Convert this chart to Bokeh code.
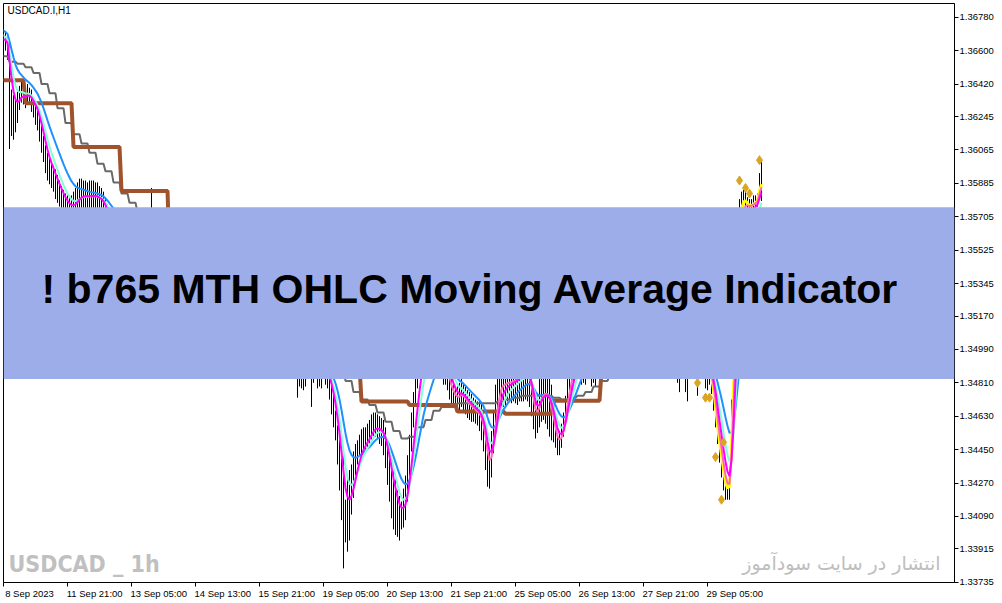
import numpy as np
import pandas as pd
from bokeh.plotting import figure
from bokeh.models import (Range1d, LinearAxis, FixedTicker, BoxAnnotation, Label,
                          PrintfTickFormatter, Grid)
from bokeh.embed import file_html
from bokeh.resources import INLINE

# ---------------- data (USDCAD.I, H1) ----------------
first_bar = -8          # bar index of first entry; index 0 = 8 Sep 2023 13:00

high = [
    1.3679, 1.3682, 1.3683, 1.3681, 1.3676, 1.3670, 1.3667, 1.3667,
    1.3671, 1.3670, 1.3667, 1.3664, 1.3639, 1.3636, 1.3633, 1.3638, 1.3641, 1.3644,
    1.3642, 1.3641, 1.3642, 1.3640, 1.3639, 1.3635, 1.3633, 1.3631, 1.3625, 1.3620,
    1.3614, 1.3609, 1.3605, 1.3602, 1.3600, 1.3598, 1.3596, 1.3593, 1.3590, 1.3587,
    1.3585, 1.3583, 1.3582, 1.3582, 1.3582, 1.3584, 1.3586, 1.3589, 1.3591, 1.3591,
    1.3590, 1.3590, 1.3589, 1.3590, 1.3590, 1.3590, 1.3589, 1.3589, 1.3587, 1.3586,
    1.3584, 1.3580, 1.3577, 1.3574, 1.3573, 1.3571, 1.3570, 1.3569, 1.3568, 1.3566,
    1.3566, 1.3568, 1.3570, 1.3571, 1.3571, 1.3572, 1.3572, 1.3572, 1.3573, 1.3573,
    1.3572, 1.3573, 1.3574, 1.3575, 1.3586, 1.3574, 1.3571, 1.3569, 1.3565, 1.3562,
    1.3560, 1.3559, 1.3557, 1.3555, 1.3554, 1.3553, 1.3554, 1.3553, 1.3551, 1.3550,
    1.3549, 1.3548, 1.3548, 1.3547, 1.3545, 1.3544, 1.3543, 1.3541, 1.3542, 1.3540,
    1.3539, 1.3537, 1.3537, 1.3536, 1.3536, 1.3535, 1.3534, 1.3533, 1.3532, 1.3532,
    1.3530, 1.3529, 1.3528, 1.3527, 1.3526, 1.3525, 1.3523, 1.3523, 1.3522, 1.3521,
    1.3521, 1.3520, 1.3519, 1.3518, 1.3516, 1.3516, 1.3515, 1.3515, 1.3514, 1.3513,
    1.3512, 1.3511, 1.3509, 1.3509, 1.3508, 1.3507, 1.3506, 1.3506, 1.3505, 1.3504,
    1.3504, 1.3502, 1.3502, 1.3501, 1.3501, 1.3500, 1.3499, 1.3498, 1.3499, 1.3500,
    1.3499, 1.3498, 1.3496, 1.3495, 1.3494, 1.3493, 1.3495, 1.3498, 1.3499, 1.3498,
    1.3497, 1.3493, 1.3492, 1.3488, 1.3480, 1.3476, 1.3466, 1.3458, 1.3450, 1.3440,
    1.3444, 1.3418, 1.3430, 1.3434, 1.3437, 1.3444, 1.3448, 1.3450, 1.3453, 1.3456,
    1.3457, 1.3457, 1.3459, 1.3461, 1.3464, 1.3465, 1.3465, 1.3464, 1.3463, 1.3462,
    1.3461, 1.3457, 1.3450, 1.3445, 1.3438, 1.3434, 1.3429, 1.3423, 1.3420, 1.3417,
    1.3424, 1.3431, 1.3442, 1.3453, 1.3465, 1.3476, 1.3487, 1.3496, 1.3504, 1.3509,
    1.3514, 1.3508, 1.3508, 1.3509, 1.3512, 1.3514, 1.3515, 1.3515, 1.3514, 1.3509,
    1.3515, 1.3502, 1.3490, 1.3485, 1.3483, 1.3480, 1.3479, 1.3479, 1.3481, 1.3483,
    1.3481, 1.3479, 1.3477, 1.3476, 1.3475, 1.3473, 1.3472, 1.3471, 1.3472, 1.3470,
    1.3465, 1.3460, 1.3448, 1.3444, 1.3455, 1.3466, 1.3480, 1.3488, 1.3493, 1.3499,
    1.3495, 1.3493, 1.3492, 1.3491, 1.3493, 1.3494, 1.3495, 1.3499, 1.3499, 1.3500,
    1.3501, 1.3500, 1.3499, 1.3495, 1.3489, 1.3477, 1.3471, 1.3473, 1.3483, 1.3490,
    1.3493, 1.3493, 1.3493, 1.3489, 1.3480, 1.3466, 1.3457, 1.3452, 1.3455, 1.3459,
    1.3465, 1.3474, 1.3485, 1.3491, 1.3498, 1.3502, 1.3508, 1.3515, 1.3520, 1.3528,
    1.3531, 1.3536, 1.3536, 1.3539, 1.3544, 1.3543, 1.3546, 1.3545, 1.3548, 1.3526,
    1.3526, 1.3526, 1.3528, 1.3530, 1.3532, 1.3533, 1.3534, 1.3534, 1.3533, 1.3532,
    1.3530, 1.3528, 1.3527, 1.3526, 1.3525, 1.3523, 1.3522, 1.3521, 1.3519, 1.3518,
    1.3516, 1.3515, 1.3514, 1.3513, 1.3512, 1.3511, 1.3510, 1.3508, 1.3507, 1.3506,
    1.3505, 1.3504, 1.3502, 1.3501, 1.3500, 1.3499, 1.3498, 1.3498, 1.3501, 1.3498,
    1.3499, 1.3500, 1.3499, 1.3496, 1.3499, 1.3500, 1.3499, 1.3501, 1.3498, 1.3499,
    1.3500, 1.3501, 1.3499, 1.3493, 1.3490, 1.3483, 1.3471, 1.3458, 1.3451, 1.3447,
    1.3437, 1.3431, 1.3427, 1.3434, 1.3472, 1.3509, 1.3546, 1.3570, 1.3580, 1.3584,
    1.3585, 1.3584, 1.3581, 1.3580, 1.3580, 1.3582, 1.3582, 1.3583, 1.3594, 1.3601,
]

low = [
    1.3671, 1.3673, 1.3674, 1.3672, 1.3668, 1.3661, 1.3658, 1.3658,
    1.3659, 1.3660, 1.3655, 1.3607, 1.3614, 1.3612, 1.3616, 1.3621, 1.3628, 1.3632,
    1.3631, 1.3629, 1.3632, 1.3631, 1.3627, 1.3624, 1.3620, 1.3617, 1.3611, 1.3605,
    1.3600, 1.3594, 1.3590, 1.3588, 1.3586, 1.3584, 1.3580, 1.3578, 1.3576, 1.3574,
    1.3572, 1.3570, 1.3569, 1.3568, 1.3568, 1.3569, 1.3570, 1.3572, 1.3574, 1.3575,
    1.3575, 1.3574, 1.3574, 1.3573, 1.3574, 1.3574, 1.3574, 1.3573, 1.3572, 1.3571,
    1.3569, 1.3565, 1.3562, 1.3561, 1.3559, 1.3557, 1.3557, 1.3556, 1.3555, 1.3555,
    1.3554, 1.3555, 1.3556, 1.3557, 1.3557, 1.3558, 1.3559, 1.3558, 1.3559, 1.3560,
    1.3559, 1.3561, 1.3561, 1.3563, 1.3557, 1.3561, 1.3557, 1.3554, 1.3550, 1.3547,
    1.3545, 1.3544, 1.3543, 1.3541, 1.3540, 1.3539, 1.3540, 1.3539, 1.3536, 1.3536,
    1.3535, 1.3534, 1.3534, 1.3533, 1.3531, 1.3529, 1.3528, 1.3527, 1.3528, 1.3526,
    1.3525, 1.3523, 1.3523, 1.3522, 1.3522, 1.3521, 1.3520, 1.3519, 1.3518, 1.3518,
    1.3516, 1.3515, 1.3514, 1.3513, 1.3512, 1.3511, 1.3509, 1.3509, 1.3508, 1.3507,
    1.3507, 1.3506, 1.3505, 1.3504, 1.3502, 1.3502, 1.3501, 1.3501, 1.3500, 1.3499,
    1.3498, 1.3497, 1.3495, 1.3495, 1.3494, 1.3493, 1.3492, 1.3492, 1.3491, 1.3490,
    1.3490, 1.3488, 1.3488, 1.3487, 1.3487, 1.3486, 1.3485, 1.3473, 1.3479, 1.3478,
    1.3477, 1.3479, 1.3483, 1.3484, 1.3468, 1.3481, 1.3484, 1.3478, 1.3479, 1.3478,
    1.3484, 1.3480, 1.3478, 1.3472, 1.3464, 1.3457, 1.3450, 1.3437, 1.3423, 1.3407,
    1.3381, 1.3395, 1.3390, 1.3396, 1.3410, 1.3419, 1.3429, 1.3437, 1.3442, 1.3442,
    1.3444, 1.3445, 1.3446, 1.3448, 1.3449, 1.3452, 1.3452, 1.3451, 1.3448, 1.3447,
    1.3442, 1.3435, 1.3426, 1.3417, 1.3408, 1.3402, 1.3399, 1.3398, 1.3396, 1.3402,
    1.3403, 1.3407, 1.3417, 1.3431, 1.3444, 1.3457, 1.3468, 1.3478, 1.3487, 1.3494,
    1.3500, 1.3494, 1.3495, 1.3497, 1.3499, 1.3501, 1.3502, 1.3502, 1.3500, 1.3497,
    1.3480, 1.3480, 1.3477, 1.3472, 1.3468, 1.3468, 1.3466, 1.3466, 1.3466, 1.3468,
    1.3466, 1.3464, 1.3462, 1.3461, 1.3460, 1.3460, 1.3459, 1.3458, 1.3455, 1.3450,
    1.3444, 1.3434, 1.3425, 1.3424, 1.3430, 1.3443, 1.3452, 1.3461, 1.3466, 1.3466,
    1.3468, 1.3468, 1.3471, 1.3472, 1.3470, 1.3471, 1.3470, 1.3469, 1.3471, 1.3471,
    1.3471, 1.3472, 1.3471, 1.3468, 1.3463, 1.3456, 1.3451, 1.3454, 1.3457, 1.3460,
    1.3461, 1.3459, 1.3456, 1.3452, 1.3450, 1.3449, 1.3446, 1.3442, 1.3442, 1.3446,
    1.3452, 1.3461, 1.3468, 1.3472, 1.3476, 1.3480, 1.3483, 1.3483, 1.3483, 1.3480,
    1.3481, 1.3480, 1.3483, 1.3483, 1.3479, 1.3481, 1.3479, 1.3483, 1.3481, 1.3506,
    1.3508, 1.3512, 1.3514, 1.3516, 1.3518, 1.3519, 1.3520, 1.3520, 1.3519, 1.3518,
    1.3516, 1.3514, 1.3513, 1.3512, 1.3511, 1.3509, 1.3508, 1.3507, 1.3505, 1.3504,
    1.3502, 1.3501, 1.3500, 1.3499, 1.3498, 1.3497, 1.3496, 1.3494, 1.3493, 1.3492,
    1.3491, 1.3490, 1.3488, 1.3487, 1.3486, 1.3485, 1.3485, 1.3481, 1.3476, 1.3484,
    1.3485, 1.3476, 1.3471, 1.3484, 1.3485, 1.3485, 1.3484, 1.3474, 1.3484, 1.3485,
    1.3485, 1.3478, 1.3477, 1.3480, 1.3475, 1.3466, 1.3457, 1.3448, 1.3438, 1.3430,
    1.3423, 1.3418, 1.3418, 1.3418, 1.3440, 1.3477, 1.3516, 1.3546, 1.3568, 1.3575,
    1.3576, 1.3575, 1.3573, 1.3572, 1.3573, 1.3573, 1.3575, 1.3576, 1.3580, 1.3579,
]

# H4 moving average (one value per H4 bar, first H4 bar = 8 Sep 12:00)
gray_h4 = [
    1.3657, 1.3654, 1.3653, 1.3651, 1.3648, 1.3642, 1.3637, 1.3629, 1.3621, 1.3615,
    1.3610, 1.3605, 1.3599, 1.3595, 1.3589, 1.3583, 1.3578, 1.3573, 1.3570, 1.3568,
    1.3565, 1.3563, 1.3561, 1.3558, 1.3555, 1.3551, 1.3548, 1.3545, 1.3542, 1.3539,
    1.3535, 1.3532, 1.3529, 1.3526, 1.3522, 1.3519, 1.3516, 1.3512, 1.3507, 1.3503,
    1.3499, 1.3494, 1.3489, 1.3482, 1.3476, 1.3472, 1.3469, 1.3465, 1.3460, 1.3455,
    1.3451, 1.3452, 1.3457, 1.3461, 1.3466, 1.3468, 1.3468, 1.3470, 1.3470, 1.3470,
    1.3470, 1.3470, 1.3471, 1.3472, 1.3473, 1.3474, 1.3474, 1.3474, 1.3474, 1.3473,
    1.3472, 1.3473, 1.3474, 1.3476, 1.3479, 1.3482, 1.3485, 1.3488, 1.3491, 1.3494,
    1.3498, 1.3499, 1.3499, 1.3498, 1.3497, 1.3495, 1.3494, 1.3493, 1.3492, 1.3491,
    1.3488, 1.3486, 1.3490, 1.3499, 1.3507, 1.3515,
]

# Daily (MTH) moving average: 8 Sep .. 29 Sep
brown_d1 = [1.36440, 1.36317, 1.36081, 1.35844, 1.35525, 1.35283, 1.35068, 1.34901,
            1.34709, 1.34691, 1.34655, 1.34643, 1.34714, 1.34869, 1.34922, 1.34901]
brown_len = [12] + [24] * 14 + [33]     # H1 bars per day shown

# marker points (bar index, price)
dia_bar = [347, 351, 353, 356, 359, 360, 368, 371, 373, 378]
dia_price = [1.3481, 1.3473, 1.3473, 1.3441, 1.3418, 1.3449, 1.3590, 1.3586, 1.3583, 1.3601]

# axes
price_ticks = [1.36780, 1.36600, 1.36420, 1.36245, 1.36065, 1.35885, 1.35705, 1.35525,
               1.35345, 1.35170, 1.34990, 1.34810, 1.34630, 1.34450, 1.34270, 1.34090,
               1.33915, 1.33735]
time_ticks = [0, 32, 64, 96, 128, 160, 192, 224, 256, 288, 320, 352]
time_labels = ["8 Sep 2023", "11 Sep 21:00", "13 Sep 05:00", "14 Sep 13:00",
               "15 Sep 21:00", "19 Sep 05:00", "20 Sep 13:00", "21 Sep 21:00",
               "25 Sep 05:00", "26 Sep 13:00", "27 Sep 21:00", "29 Sep 05:00"]

# ---------------- derived series ----------------
n = min(len(high), len(low))
bar = np.arange(first_bar, first_bar + n)
hi = np.array(high[:n])
lo = np.array(low[:n])
med = pd.Series((hi + lo) / 2.0)


def ema(span):
    return med.ewm(span=span, adjust=False).mean().to_numpy()


ma_mag = ema(5)
ma_aqua = ema(8)
ma_blue = ema(16)
ma_pink = ema(3)
ma_yel = ema(2)

vis = bar >= -1
pk = bar >= 222
yl = bar >= 340

x_mtf = np.arange(-1, 380)
gray_line = np.repeat(gray_h4, 4)[:len(x_mtf)]
brown_line = np.repeat(brown_d1, brown_len)[:len(x_mtf)]
xb = x_mtf[:len(brown_line)]

# ---------------- figure ----------------
p = figure(width=1000, height=602,
           x_range=Range1d(0, 475.5), y_range=Range1d(1.33734, 1.36854),
           output_backend="svg", toolbar_location=None, tools="",
           x_axis_location=None, y_axis_location="right",
           min_border_left=3, min_border_top=3, min_border_right=46, min_border_bottom=20,
           background_fill_color="white", border_fill_color="white")
p.outline_line_color = "black"
p.outline_line_width = 1
for g in p.select(type=Grid):
    g.visible = False

ya = p.yaxis[0]
ya.ticker = FixedTicker(ticks=price_ticks)
ya.formatter = PrintfTickFormatter(format="%.5f")
ya.major_tick_out = 4
ya.major_tick_in = 0
ya.minor_tick_line_color = None
ya.axis_line_color = "black"
ya.major_label_standoff = 1
ya.major_label_text_font = "Liberation Sans"
ya.major_label_text_font_size = "9.5px"
ya.major_label_text_color = "black"

# time axis: labels start at their tick (MT4 style); tick marks drawn as minor ticks
label_pos = [13.0] + [t + 13.6 for t in time_ticks[1:]]
ax_l = LinearAxis(ticker=FixedTicker(ticks=label_pos, minor_ticks=time_ticks),
                  major_label_overrides=dict(zip(label_pos, time_labels)),
                  major_tick_line_color=None, major_tick_out=0, major_tick_in=0,
                  minor_tick_line_color="black", minor_tick_out=4, minor_tick_in=0,
                  axis_line_color="black", major_label_standoff=1,
                  major_label_text_font="Liberation Sans",
                  major_label_text_font_size="9.5px", major_label_text_color="black")
p.add_layout(ax_l, "below")

# price bars
p.segment(x0=bar[vis], y0=lo[vis], x1=bar[vis], y1=hi[vis], line_color="black", line_width=1)

# MTF lines
p.line(x_mtf, gray_line, line_color="#696969", line_width=2)
p.line(xb, brown_line, line_color="#A0522D", line_width=4)

# moving averages
p.line(bar[vis], ma_blue[vis], line_color="#1E90FF", line_width=2)
p.line(bar[vis], ma_aqua[vis], line_color="#7FFFD4", line_width=2)
p.line(bar[yl], ma_yel[yl], line_color="#FFFF00", line_width=3)
p.line(bar[pk], ma_pink[pk], line_color="#FF69B4", line_width=2)
p.line(bar[vis], ma_mag[vis], line_color="#FF00FF", line_width=2)

p.scatter(dia_bar, dia_price, marker="diamond", size=9, fill_color="#DAA520",
          line_color="#DAA520")

# overlay texts
p.add_layout(Label(x=2, y=1.36814, text="USDCAD.I,H1", text_font="Liberation Sans",
                   text_font_size="10px", text_color="black", text_baseline="middle"))
p.add_layout(Label(x=2.5, y=1.33831, text="USDCAD _ 1h",
                   text_font="DejaVu Sans Condensed, DejaVu Sans, sans-serif",
                   text_font_style="bold", text_font_size="23px", text_color="#C0C0C0",
                   text_baseline="middle"))
p.add_layout(Label(x=468.5, y=1.33840, text="انتشار در سایت سودآموز",
                   text_font="DejaVu Sans", text_font_size="19px", text_color="#BEBEBE",
                   text_align="right", text_baseline="middle"))

p.add_layout(BoxAnnotation(top=1.35756, bottom=1.34831, fill_color="#9DADEA",
                           fill_alpha=1.0, line_color=None, line_alpha=0))
p.add_layout(Label(x=19, y=1.35318, text="! b765 MTH OHLC Moving Average Indicator",
                   text_font="Liberation Sans", text_font_style="bold",
                   text_font_size="41px", text_color="black", text_baseline="middle"))

open("out.html", "w").write(file_html(p, INLINE))
